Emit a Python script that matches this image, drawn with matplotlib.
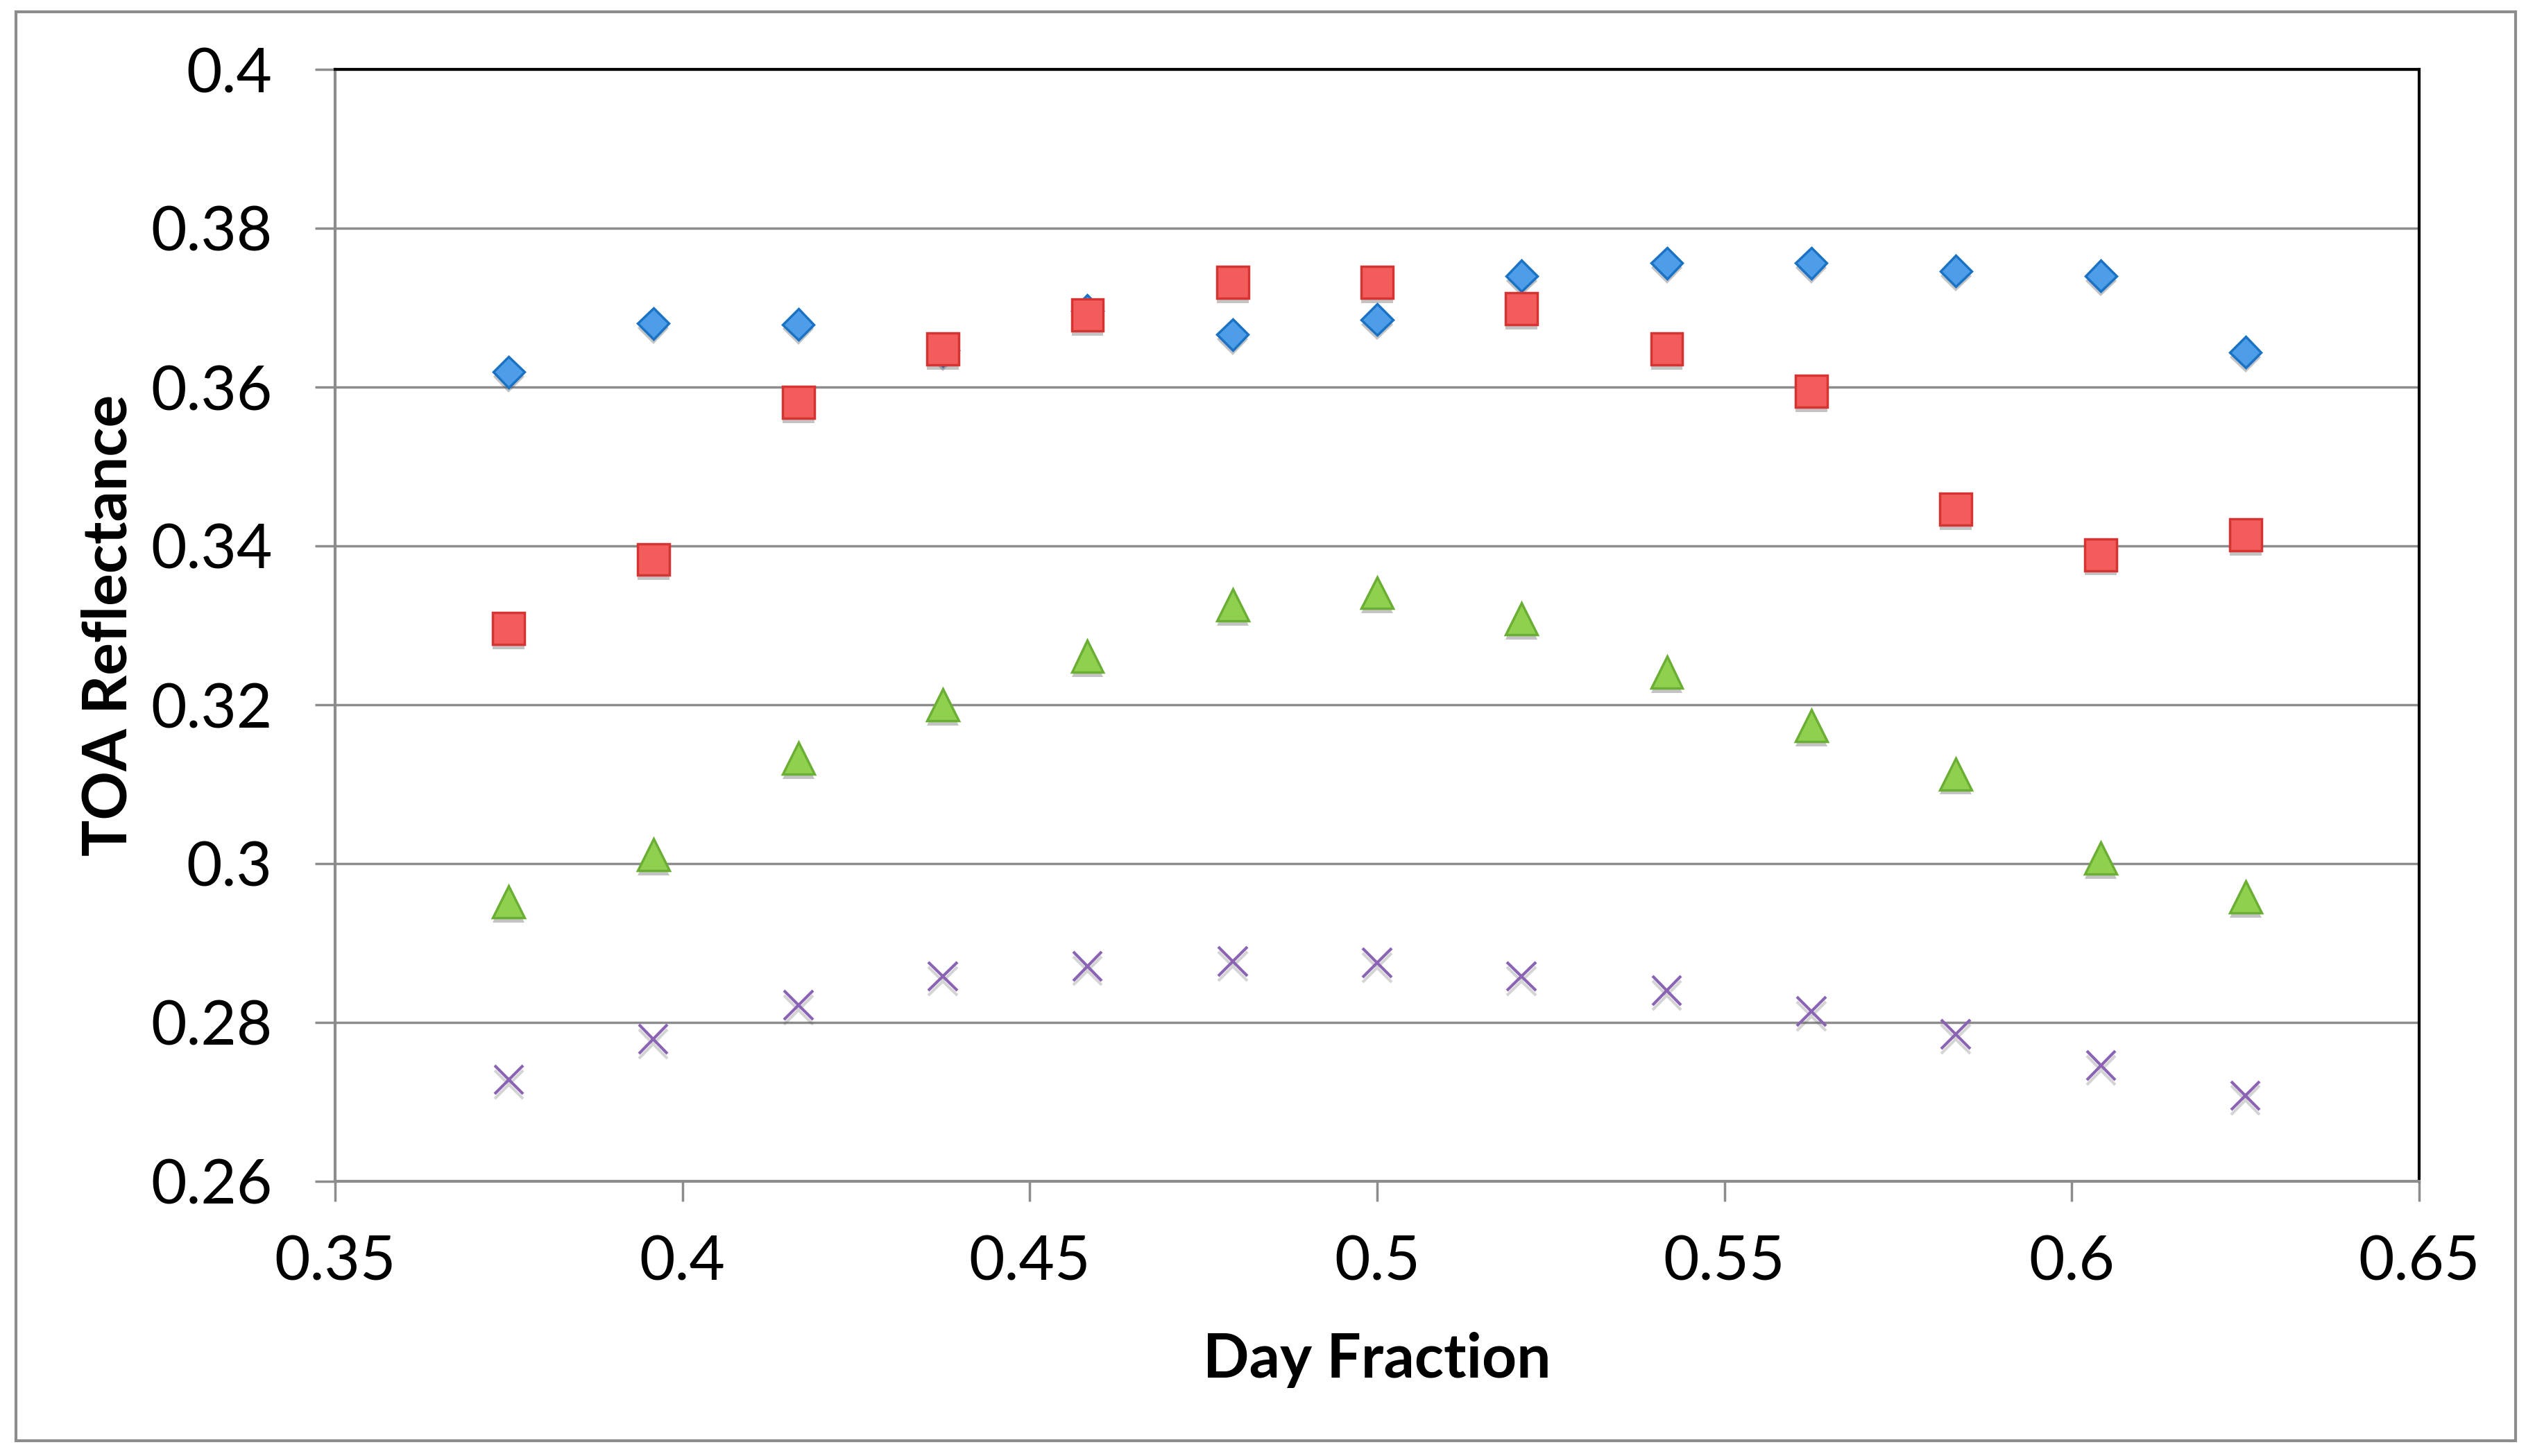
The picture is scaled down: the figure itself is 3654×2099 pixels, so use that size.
import matplotlib
matplotlib.use("Agg")
import matplotlib.pyplot as plt
import matplotlib.patheffects as pe
from matplotlib.patches import Rectangle

plt.rcParams['font.family'] = ['Lato', 'DejaVu Sans']

day_fraction = [0.375, 0.3958, 0.4167, 0.4375, 0.4583, 0.4792, 0.5,
                0.5208, 0.5417, 0.5625, 0.5833, 0.6042, 0.625]
series_diamond = [0.3619, 0.3680, 0.3679, 0.3646, 0.3696, 0.3666, 0.3685,
                  0.3740, 0.3756, 0.3756, 0.3746, 0.3740, 0.3644]
series_square = [0.3296, 0.3383, 0.3581, 0.3648, 0.3691, 0.3732, 0.3732,
                 0.3699, 0.3648, 0.3595, 0.3446, 0.3389, 0.3414]
series_triangle = [0.2952, 0.3011, 0.3133, 0.3200, 0.3261, 0.3326, 0.3341,
                   0.3308, 0.3241, 0.3174, 0.3113, 0.3007, 0.2958]
series_cross = [0.2728, 0.2779, 0.2822, 0.2858, 0.2871, 0.2877, 0.2875,
                0.2858, 0.2840, 0.2814, 0.2785, 0.2746, 0.2708]

x_ticks = [0.35, 0.4, 0.45, 0.5, 0.55, 0.6, 0.65]
x_tick_labels = ['0.35', '0.4', '0.45', '0.5', '0.55', '0.6', '0.65']
y_ticks = [0.26, 0.28, 0.3, 0.32, 0.34, 0.36, 0.38, 0.4]
y_tick_labels = ['0.26', '0.28', '0.3', '0.32', '0.34', '0.36', '0.38', '0.4']

W, H = 3655, 2099
fig = plt.figure(figsize=(W / 100, H / 100), dpi=100)
ax = fig.add_axes([483 / W, 1 - 1703 / H, (3487 - 483) / W, (1703 - 100) / H])

# outer chart border
fig.patches.append(Rectangle((23 / W, 1 - 2077 / H), (3626 - 23) / W, (2077 - 17) / H,
                             transform=fig.transFigure, fill=False,
                             edgecolor='#8c8c8c', linewidth=3, zorder=0))

shadow = [pe.SimplePatchShadow(offset=(0, -5), shadow_rgbFace='#555555', alpha=0.35),
          pe.Normal()]
shadow_line = [pe.SimpleLineShadow(offset=(0, -5), shadow_color='#555555', alpha=0.25),
               pe.Normal()]

ax.plot(day_fraction, series_diamond, linestyle='none', marker='D', markersize=23,
        markerfacecolor='#4d9de8', markeredgecolor='#1a72c4', markeredgewidth=2.5,
        path_effects=shadow, zorder=3)
ax.plot(day_fraction, series_square, linestyle='none', marker='s', markersize=33,
        markerfacecolor='#f25c5c', markeredgecolor='#d63333', markeredgewidth=2.5,
        path_effects=shadow, zorder=4)
ax.plot(day_fraction, series_triangle, linestyle='none', marker='^', markersize=33,
        markerfacecolor='#8fd14f', markeredgecolor='#6aae34', markeredgewidth=2.5,
        path_effects=shadow, zorder=5)
ax.plot(day_fraction, series_cross, linestyle='none', marker='x', markersize=30,
        markeredgecolor='#8a63b5', markeredgewidth=3,
        path_effects=shadow_line, zorder=6)

ax.set_xlim(0.35, 0.65)
ax.set_ylim(0.26, 0.4)
ax.set_xticks(x_ticks)
ax.set_xticklabels(x_tick_labels)
ax.set_yticks(y_ticks)
ax.set_yticklabels(y_tick_labels)

ax.yaxis.grid(True, color='#8c8c8c', linewidth=2.5)
ax.xaxis.grid(False)
ax.set_axisbelow(True)

for side in ['top', 'right']:
    ax.spines[side].set_color('black')
    ax.spines[side].set_linewidth(3)
for side in ['left', 'bottom']:
    ax.spines[side].set_color('#8c8c8c')
    ax.spines[side].set_linewidth(3)

ax.tick_params(axis='both', direction='out', length=21, width=2.5, color='#8c8c8c',
               labelsize=64, labelcolor='black')
ax.tick_params(axis='y', pad=44)
ax.tick_params(axis='x', pad=34)

ax.set_xlabel('Day Fraction', fontsize=63, fontweight='bold', labelpad=42)
ax.set_ylabel('TOA Reflectance', fontsize=63, fontweight='bold', labelpad=14)

fig.savefig('out.png', dpi=100, facecolor='white')
